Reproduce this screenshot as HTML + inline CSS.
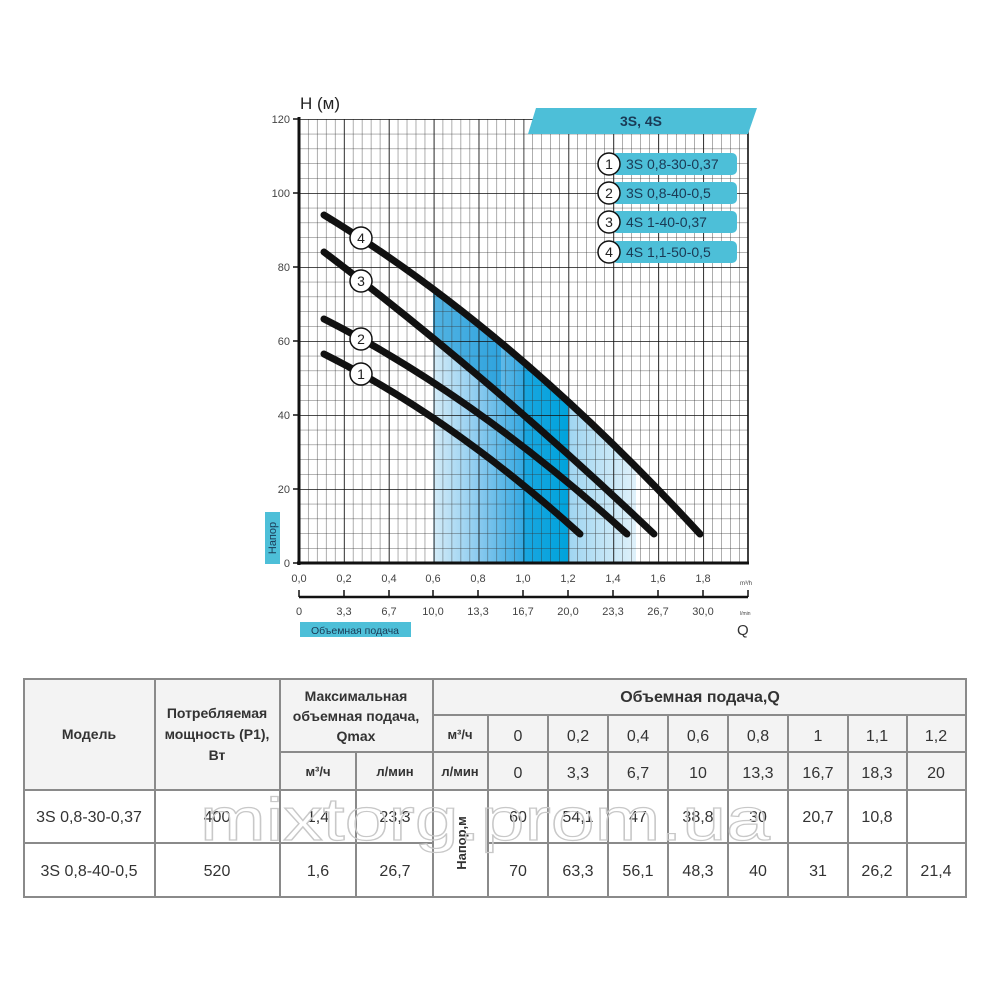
<!DOCTYPE html>
<html><head><meta charset="utf-8"><style>
html,body{margin:0;padding:0;background:#fff;}
svg{display:block;font-family:"Liberation Sans",Arial,sans-serif;}
</style></head><body>
<svg width="1000" height="1000" viewBox="0 0 1000 1000" xmlns="http://www.w3.org/2000/svg">
<defs>
<pattern id="minor" x="299" y="119" width="8.98" height="14.8" patternUnits="userSpaceOnUse">
<path d="M0,0 V14.8 M0,0 H8.98" stroke="#333" stroke-width="0.8" fill="none"/>
</pattern>
<pattern id="major" x="299" y="119" width="44.9" height="74" patternUnits="userSpaceOnUse">
<path d="M0,0 V74 M0,0 H44.9" stroke="#111" stroke-width="1.6" fill="none"/>
</pattern>
<linearGradient id="sh" x1="433" x2="636" y1="0" y2="0" gradientUnits="userSpaceOnUse">
<stop offset="0" stop-color="#d4ecf8"/>
<stop offset="0.22" stop-color="#8ccbef"/>
<stop offset="0.443" stop-color="#36a9e2"/>
<stop offset="0.443" stop-color="#1aa6e0"/>
<stop offset="0.665" stop-color="#00a3dc"/>
<stop offset="0.665" stop-color="#9fd5f1"/>
<stop offset="1" stop-color="#dff1fa"/>
</linearGradient>
<clipPath id="c1"><rect x="433" y="100" width="203" height="463"/></clipPath>
<clipPath id="c2"><rect x="433" y="100" width="68" height="463"/></clipPath>
</defs>
<!-- shaded area -->
<path d="M324,215 Q512,329.5 700,534 L700,563 L324,563 Z" fill="url(#sh)" clip-path="url(#c1)"/>
<path d="M324,215 Q512,329.5 700,534 L654,534 Q489,377 324,252 Z" fill="#1a9ad8" opacity="0.7" clip-path="url(#c2)"/>
<!-- grid -->
<rect x="299" y="119" width="449" height="444" fill="url(#minor)"/>
<rect x="299" y="119" width="449.5" height="444.5" fill="url(#major)"/>
<line x1="748" y1="119" x2="748" y2="563" stroke="#111" stroke-width="1.6"/>
<line x1="299" y1="117" x2="299" y2="565" stroke="#111" stroke-width="3"/>
<line x1="297" y1="563" x2="749" y2="563" stroke="#111" stroke-width="3"/>
<g stroke="#111" stroke-width="1.5">
<line x1="293" y1="119" x2="299" y2="119"/><line x1="293" y1="193" x2="299" y2="193"/><line x1="293" y1="267" x2="299" y2="267"/><line x1="293" y1="341" x2="299" y2="341"/><line x1="293" y1="415" x2="299" y2="415"/><line x1="293" y1="489" x2="299" y2="489"/><line x1="293" y1="563" x2="299" y2="563"/>
</g>
<g font-size="11" fill="#444" text-anchor="end">
<text x="290" y="123">120</text><text x="290" y="197">100</text><text x="290" y="271">80</text><text x="290" y="345">60</text><text x="290" y="419">40</text><text x="290" y="493">20</text><text x="290" y="567">0</text>
</g>
<text x="300" y="109" font-size="17" fill="#222">H (м)</text>
<rect x="265" y="512" width="15" height="52" fill="#4dbfd8"/>
<text transform="translate(276,538) rotate(-90)" font-size="11" fill="#1a3a55" text-anchor="middle">Напор</text>
<g font-size="11" fill="#444" text-anchor="middle">
<text x="299" y="582">0,0</text><text x="344" y="582">0,2</text><text x="389" y="582">0,4</text><text x="433" y="582">0,6</text><text x="478" y="582">0,8</text><text x="523" y="582">1,0</text><text x="568" y="582">1,2</text><text x="613" y="582">1,4</text><text x="658" y="582">1,6</text><text x="703" y="582">1,8</text>
</g>
<text x="740" y="585" font-size="6" fill="#444">m³/h</text>
<line x1="299" y1="597" x2="748" y2="597" stroke="#111" stroke-width="2.5"/>
<g stroke="#111" stroke-width="1.5">
<line x1="299" y1="590" x2="299" y2="597"/><line x1="344" y1="590" x2="344" y2="597"/><line x1="389" y1="590" x2="389" y2="597"/><line x1="433" y1="590" x2="433" y2="597"/><line x1="478" y1="590" x2="478" y2="597"/><line x1="523" y1="590" x2="523" y2="597"/><line x1="568" y1="590" x2="568" y2="597"/><line x1="613" y1="590" x2="613" y2="597"/><line x1="658" y1="590" x2="658" y2="597"/><line x1="703" y1="590" x2="703" y2="597"/><line x1="748" y1="590" x2="748" y2="597"/>
</g>
<g font-size="11" fill="#444" text-anchor="middle">
<text x="299" y="615">0</text><text x="344" y="615">3,3</text><text x="389" y="615">6,7</text><text x="433" y="615">10,0</text><text x="478" y="615">13,3</text><text x="523" y="615">16,7</text><text x="568" y="615">20,0</text><text x="613" y="615">23,3</text><text x="658" y="615">26,7</text><text x="703" y="615">30,0</text>
</g>
<text x="740" y="615" font-size="5" fill="#444">l/min</text>
<text x="737" y="635" font-size="15" fill="#333">Q</text>
<rect x="300" y="622" width="111" height="15" fill="#4dbfd8"/>
<text x="355" y="634" font-size="10.5" fill="#1a3a55" text-anchor="middle">Объемная подача</text>
<!-- curves -->
<g fill="none" stroke="#111" stroke-width="7" stroke-linecap="round">
<path d="M324,215 Q512,329.5 700,534"/>
<path d="M324,252 Q489,377 654,534"/>
<path d="M324,319 Q474.5,395.5 627,534"/>
<path d="M324,354 Q452,418 580,534"/>
</g>
<g fill="#fff" stroke="#111" stroke-width="1.5">
<circle cx="361" cy="238" r="11"/><circle cx="361" cy="281" r="11"/><circle cx="361" cy="339" r="11"/><circle cx="361" cy="374" r="11"/>
</g>
<g font-size="14" fill="#222" text-anchor="middle">
<text x="361" y="243">4</text><text x="361" y="286">3</text><text x="361" y="344">2</text><text x="361" y="379">1</text>
</g>
<polygon points="536,108 757,108 748,134 528,134" fill="#4dbfd8"/>
<text x="641" y="126" font-size="14" font-weight="bold" fill="#1a3a55" text-anchor="middle">3S, 4S</text>
<g fill="#4dbfd8">
<rect x="612" y="153" width="125" height="22" rx="5"/><rect x="612" y="182" width="125" height="22" rx="5"/><rect x="612" y="211" width="125" height="22" rx="5"/><rect x="612" y="241" width="125" height="22" rx="5"/>
</g>
<g fill="#fff" stroke="#111" stroke-width="1.5">
<circle cx="609" cy="164" r="11"/><circle cx="609" cy="193" r="11"/><circle cx="609" cy="222" r="11"/><circle cx="609" cy="252" r="11"/>
</g>
<g font-size="14" fill="#222" text-anchor="middle">
<text x="609" y="169">1</text><text x="609" y="198">2</text><text x="609" y="227">3</text><text x="609" y="257">4</text>
</g>
<g font-size="14" fill="#1a3a55">
<text x="626" y="169">3S 0,8-30-0,37</text><text x="626" y="198">3S 0,8-40-0,5</text><text x="626" y="227">4S 1-40-0,37</text><text x="626" y="257">4S 1,1-50-0,5</text>
</g>
<!-- table -->
<rect x="24" y="679" width="942" height="111" fill="#f3f3f3"/>
<g stroke="#8a8a8a" stroke-width="2" fill="none">
<rect x="24" y="679" width="942" height="218"/>
<line x1="155" y1="679" x2="155" y2="897"/><line x1="280" y1="679" x2="280" y2="897"/><line x1="433" y1="679" x2="433" y2="897"/>
<line x1="356" y1="752" x2="356" y2="897"/>
<line x1="280" y1="752" x2="433" y2="752"/>
<line x1="433" y1="715" x2="966" y2="715"/><line x1="433" y1="752" x2="966" y2="752"/>
<line x1="24" y1="790" x2="966" y2="790"/><line x1="24" y1="843" x2="433" y2="843"/><line x1="488" y1="843" x2="966" y2="843"/>
<line x1="488" y1="715" x2="488" y2="897"/><line x1="548" y1="715" x2="548" y2="897"/><line x1="608" y1="715" x2="608" y2="897"/><line x1="668" y1="715" x2="668" y2="897"/><line x1="728" y1="715" x2="728" y2="897"/><line x1="788" y1="715" x2="788" y2="897"/><line x1="848" y1="715" x2="848" y2="897"/><line x1="907" y1="715" x2="907" y2="897"/>
</g>
<g font-size="14" font-weight="bold" fill="#333" text-anchor="middle">
<text x="89" y="739">Модель</text>
<text x="217" y="718">Потребляемая</text><text x="217" y="739">мощность (P1),</text><text x="217" y="760">Вт</text>
<text x="356" y="701">Максимальная</text><text x="356" y="721">объемная подача,</text><text x="356" y="741">Qmax</text>
<text x="318" y="776" font-size="13">м³/ч</text><text x="395" y="776" font-size="13">л/мин</text>
<text x="460" y="739" font-size="13">м³/ч</text><text x="460" y="776" font-size="13">л/мин</text>
<text x="700" y="702" font-size="16">Объемная подача,Q</text>
<text transform="translate(466,843) rotate(-90)" font-size="13">Напор,м</text>
</g>
<g font-size="16" fill="#333" text-anchor="middle">
<text x="518" y="741">0</text><text x="578" y="741">0,2</text><text x="638" y="741">0,4</text><text x="698" y="741">0,6</text><text x="758" y="741">0,8</text><text x="818" y="741">1</text><text x="877" y="741">1,1</text><text x="936" y="741">1,2</text>
<text x="518" y="778">0</text><text x="578" y="778">3,3</text><text x="638" y="778">6,7</text><text x="698" y="778">10</text><text x="758" y="778">13,3</text><text x="818" y="778">16,7</text><text x="877" y="778">18,3</text><text x="936" y="778">20</text>
<text x="89" y="822">3S 0,8-30-0,37</text><text x="217" y="822">400</text><text x="318" y="822">1,4</text><text x="395" y="822">23,3</text>
<text x="518" y="822">60</text><text x="578" y="822">54,1</text><text x="638" y="822">47</text><text x="698" y="822">38,8</text><text x="758" y="822">30</text><text x="818" y="822">20,7</text><text x="877" y="822">10,8</text>
<text x="89" y="876">3S 0,8-40-0,5</text><text x="217" y="876">520</text><text x="318" y="876">1,6</text><text x="395" y="876">26,7</text>
<text x="518" y="876">70</text><text x="578" y="876">63,3</text><text x="638" y="876">56,1</text><text x="698" y="876">48,3</text><text x="758" y="876">40</text><text x="818" y="876">31</text><text x="877" y="876">26,2</text><text x="936" y="876">21,4</text>
</g>
<text x="485" y="840" font-size="60" fill="none" stroke="#c8c8c8" stroke-width="1.2" text-anchor="middle" textLength="570" lengthAdjust="spacingAndGlyphs">mixtorg.prom.ua</text>
</svg>
</body></html>
